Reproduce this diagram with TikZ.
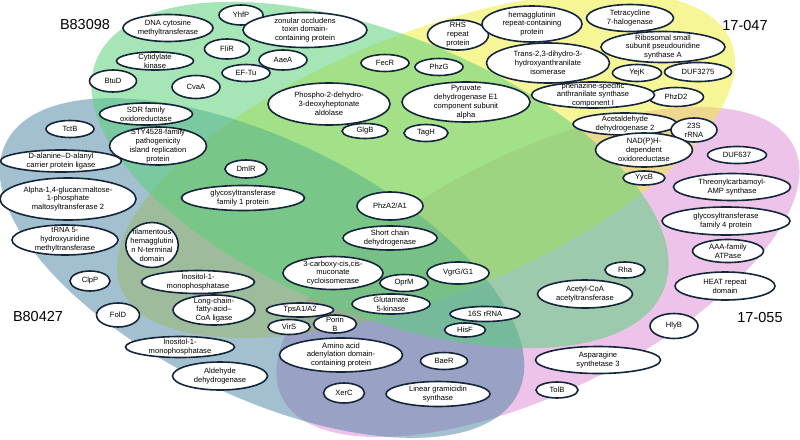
\documentclass[tikz,border=0pt]{standalone}
\usepackage{fontspec}
\setmainfont{Liberation Sans}
\usetikzlibrary{shapes.geometric}
\definecolor{setA}{HTML}{4682A0}
\definecolor{setB}{HTML}{5CD07A}
\definecolor{setC}{HTML}{F0EE30}
\definecolor{setD}{HTML}{DD87D5}
\definecolor{rim}{HTML}{15263A}

\begin{document}
\begin{tikzpicture}[x=1pt, y=-1pt,
  every node/.style={font=\fontsize{7.6}{8.9}\selectfont},
  gene/.style={ellipse, draw=rim, line width=1.6pt, fill=white, inner xsep=0pt, inner ysep=-2.5pt, align=center},
  setlabel/.style={font=\fontsize{14.5}{16}\selectfont},
  venn/.style={fill opacity=0.5}
]
\useasboundingbox (0,0) rectangle (800,439);

% four sets, drawn back to front
\fill[setD, venn, rotate around={26:(538,272)}] (538,272) ellipse [x radius=285pt, y radius=120pt];
\fill[setC, venn, rotate around={22:(426,165)}] (426,165) ellipse [x radius=329pt, y radius=131pt];
\fill[setA, venn, rotate around={-26:(262,268)}] (262,268) ellipse [x radius=285pt, y radius=128pt];
\fill[setB, venn, fill opacity=0.55, rotate around={-22:(380,175)}] (380,175) ellipse [x radius=306pt, y radius=140pt];

% set names
\node[setlabel] (nameB83098) at (85,25) {B83098};
\node[setlabel] (name17047) at (745,26) {17-047};
\node[setlabel] (nameB80427) at (38,317) {B80427};
\node[setlabel] (name17055) at (760,318) {17-055};

% B83098 side
\node[gene, minimum width=90, minimum height=27] (dnacyt) at (168,28) {DNA cytosine\\methyltransferase};
\node[gene, minimum width=44, minimum height=20] (yhfp) at (241,15) {YhfP};
\node[gene, minimum width=124, minimum height=35] (zot) at (305,30) {zonular occludens\\toxin domain-\\containing protein};
\node[gene, minimum width=45, minimum height=20] (flir) at (227,49) {FliR};
\node[gene, minimum width=77, minimum height=18] (cytk) at (155,61) {Cytidylate\\kinase};
\node[gene, minimum width=48, minimum height=20] (aaea) at (283,60) {AaeA};
\node[gene, minimum width=47, minimum height=22] (btud) at (113,81) {BtuD};
\node[gene, minimum width=48, minimum height=23] (cvaa) at (196,87) {CvaA};
\node[gene, minimum width=48, minimum height=17] (eftu) at (246,73) {EF-Tu};
\node[gene, minimum width=93, minimum height=22] (sdr) at (146,114) {SDR family\\oxidoreductase};
\node[gene, minimum width=48, minimum height=17] (tctb) at (70,129) {TctB};
\node[gene, minimum width=97, minimum height=38, inner ysep=-4pt] (sty) at (158,146) {STY4528-family\\pathogenicity\\island replication\\protein};

% B80427 side
\node[gene, minimum width=121, minimum height=22] (ddl) at (61,161) {D-alanine--D-alanyl\\carrier protein ligase};
\node[gene, minimum width=136, minimum height=42] (glucan) at (68,199) {Alpha-1,4-glucan:maltose-\\1-phosphate\\maltosyltransferase 2};
\node[gene, minimum width=106, minimum height=30] (trna) at (65,240) {tRNA 5-\\hydroxyuridine\\methyltransferase};
\node[gene, minimum width=42, minimum height=18] (dmlr) at (246,169) {DmlR};
\node[gene, minimum width=123, minimum height=25] (gtone) at (243,198) {glycosyltransferase\\family 1 protein};
\node[gene, minimum width=52, minimum height=45, inner xsep=-3pt] (fha) at (152,245) {filamentous\\hemagglutini\\n N-terminal\\domain};
\node[gene, minimum width=40, minimum height=20] (clpp) at (90,281) {ClpP};
\node[gene, minimum width=113, minimum height=23] (inoa) at (198,282) {Inositol-1-\\monophosphatase};
\node[gene, minimum width=43, minimum height=24] (fold) at (118,315) {FolD};
\node[gene, minimum width=82, minimum height=30] (lcfa) at (214,310) {Long-chain-\\fatty-acid--\\CoA ligase};
\node[gene, minimum width=109, minimum height=21] (inob) at (180,347) {Inositol-1-\\monophosphatase};
\node[gene, minimum width=95, minimum height=28] (aldh) at (220,376) {Aldehyde\\dehydrogenase};

% upper middle
\node[gene, minimum width=48, minimum height=17] (fecr) at (385,63) {FecR};
\node[gene, minimum width=48, minimum height=17] (phzg) at (439,67) {PhzG};
\node[gene, minimum width=61, minimum height=30] (rhs) at (458,35) {RHS\\repeat\\protein};
\node[gene, minimum width=100, minimum height=36] (hemag) at (532,24) {hemagglutinin\\repeat-containing\\protein};
\node[gene, minimum width=123, minimum height=40] (haai) at (548,63) {Trans-2,3-dihydro-3-\\hydroxyanthranilate\\isomerase};
\node[gene, minimum width=122, minimum height=42] (dahp) at (329,104) {Phospho-2-dehydro-\\3-deoxyheptonate\\aldolase};
\node[gene, minimum width=128, minimum height=40, inner ysep=-3.5pt] (pdh) at (466,102) {Pyruvate\\dehydrogenase E1\\component subunit\\alpha};
\node[gene, minimum width=46, minimum height=15] (glgb) at (365,131) {GlgB};
\node[gene, minimum width=44, minimum height=17] (tagh) at (426,133) {TagH};

% 17-047 side
\node[gene, minimum width=87, minimum height=27] (tet) at (630,18) {Tetracycline\\7-halogenase};
\node[gene, minimum width=124, minimum height=31] (rsua) at (663,47) {Ribosomal small\\subunit pseudouridine\\synthase A};
\node[gene, minimum width=49, minimum height=17] (yejk) at (637,73) {YejK};
\node[gene, minimum width=67, minimum height=19] (duf3275) at (698,72) {DUF3275};
\node[gene, minimum width=55, minimum height=19] (phzd) at (676,97) {PhzD2};
\node[gene, minimum width=123, minimum height=26, inner ysep=-4pt] (phze) at (593,95) {phenazine-specific\\anthranilate synthase\\component I};
\node[gene, minimum width=104, minimum height=22] (acdh) at (625,124) {Acetaldehyde\\dehydrogenase 2};
\node[gene, minimum width=46, minimum height=24] (rrnl) at (694,130) {23S\\rRNA};
\node[gene, minimum width=97, minimum height=34] (nadph) at (644,150) {NAD(P)H-\\dependent\\oxidoreductase};
\node[gene, minimum width=42, minimum height=14] (yycb) at (644,178) {YycB};

% 17-055 side
\node[gene, minimum width=59, minimum height=17] (duf637) at (737,155) {DUF637};
\node[gene, minimum width=117, minimum height=27] (tsaamp) at (732,187) {Threonylcarbamoyl-\\AMP synthase};
\node[gene, minimum width=128, minimum height=28] (gtfour) at (726,221) {glycosyltransferase\\family 4 protein};
\node[gene, minimum width=71, minimum height=23] (aaa) at (728,251) {AAA-family\\ATPase};
\node[gene, minimum width=40, minimum height=16] (rha) at (625,270) {Rha};
\node[gene, minimum width=100, minimum height=28] (heat) at (725,286) {HEAT repeat\\domain};
\node[gene, minimum width=95, minimum height=28] (acoa) at (585,294) {Acetyl-CoA\\acetyltransferase};
\node[gene, minimum width=48, minimum height=25] (hlyb) at (674,326) {HlyB};
\node[gene, minimum width=125, minimum height=27] (asnb) at (598,360) {Asparagine\\synthetase 3};
\node[gene, minimum width=42, minimum height=16] (tolb) at (557,390) {TolB};

% centre and lower middle
\node[gene, minimum width=66, minimum height=28] (phza) at (390,206) {PhzA2/A1};
\node[gene, minimum width=94, minimum height=24] (scd) at (390,238) {Short chain\\dehydrogenase};
\node[gene, minimum width=100, minimum height=33] (cmci) at (333,273) {3-carboxy-cis,cis-\\muconate\\cycloisomerase};
\node[gene, minimum width=48, minimum height=17] (oprm) at (404,283) {OprM};
\node[gene, minimum width=62, minimum height=22] (vgrg) at (458,273) {VgrG/G1};
\node[gene, minimum width=78, minimum height=20] (proB) at (391,304) {Glutamate\\5-kinase};
\node[gene, minimum width=67, minimum height=14] (tpsa) at (300,310) {TpsA1/A2};
\node[gene, minimum width=42, minimum height=15] (virs) at (289,327) {VirS};
\node[gene, minimum width=43, minimum height=18] (porb) at (335,324) {Porin\\B};
\node[gene, minimum width=70, minimum height=15] (rrns) at (485,314) {16S rRNA};
\node[gene, minimum width=41, minimum height=14] (hisf) at (465,330) {HisF};
\node[gene, minimum width=123, minimum height=34] (aad) at (341,355) {Amino acid\\adenylation domain-\\containing protein};
\node[gene, minimum width=47, minimum height=17] (baer) at (444,361) {BaeR};
\node[gene, minimum width=41, minimum height=20] (xerc) at (344,393) {XerC};
\node[gene, minimum width=104, minimum height=25] (lgrs) at (438,394) {Linear gramicidin\\synthase};

\end{tikzpicture}
\end{document}
